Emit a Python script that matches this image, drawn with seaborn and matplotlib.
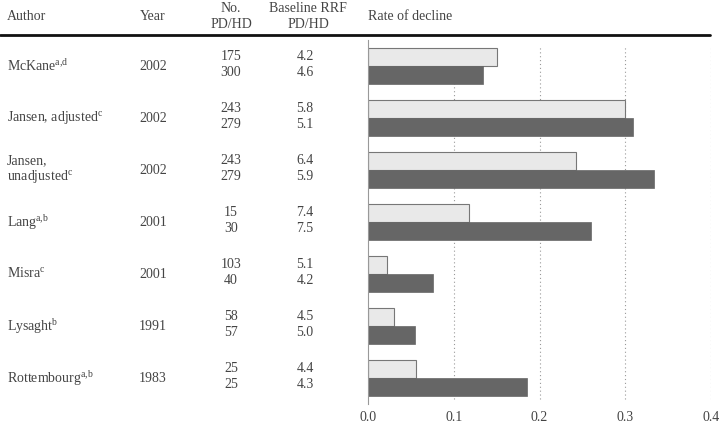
import matplotlib
matplotlib.use("Agg")
import matplotlib.pyplot as plt
import matplotlib.transforms as mtrans
import seaborn as sns
import pandas as pd

authors = ["McKane$^{\\mathrm{a{,}d}}$", "Jansen, adjusted$^{\\mathrm{c}}$",
           "Jansen,\nunadjusted$^{\\mathrm{c}}$", "Lang$^{\\mathrm{a{,}b}}$",
           "Misra$^{\\mathrm{c}}$", "Lysaght$^{\\mathrm{b}}$",
           "Rottembourg$^{\\mathrm{a{,}b}}$"]
years = ["2002", "2002", "2002", "2001", "2001", "1991", "1983"]
n_pd = ["175", "243", "243", "15", "103", "58", "25"]
n_hd = ["300", "279", "279", "30", "40", "57", "25"]
rrf_pd = ["4.2", "5.8", "6.4", "7.4", "5.1", "4.5", "4.4"]
rrf_hd = ["4.6", "5.1", "5.9", "7.5", "4.2", "5.0", "4.3"]
decline_pd = [0.151, 0.300, 0.243, 0.118, 0.022, 0.030, 0.056]
decline_hd = [0.134, 0.309, 0.334, 0.260, 0.076, 0.055, 0.185]
xticks = [0.0, 0.1, 0.2, 0.3, 0.4]

sns.set_style("white")
plt.rcParams["font.family"] = ["Liberation Serif", "DejaVu Serif"]
plt.rcParams["mathtext.fontset"] = "custom"
plt.rcParams["mathtext.rm"] = "Liberation Serif"

W, H = 720, 423
fig = plt.figure(figsize=(7.2, 4.23), dpi=100)
ax = fig.add_axes([368 / W, 1 - 404 / H, (711 - 368) / W, (404 - 40) / H])

keys = [str(i) for i in range(len(authors))]
df = pd.DataFrame({
    "study": keys * 2,
    "value": decline_pd + decline_hd,
    "mode": ["PD"] * len(keys) + ["HD"] * len(keys),
})
sns.barplot(data=df, y="study", x="value", hue="mode", order=keys,
            hue_order=["PD", "HD"], palette={"PD": "#e9e9e9", "HD": "#666666"},
            orient="h", width=0.69, ax=ax, legend=False)
for p, lbl in zip(ax.patches, ["PD"] * len(keys) + ["HD"] * len(keys)):
    if lbl == "PD":
        p.set_edgecolor("#777777")
        p.set_linewidth(0.8)
    else:
        p.set_edgecolor("#666666")
        p.set_linewidth(0.5)

ax.set_xlim(0, 0.4)
ax.set_ylim(6.5, -0.5)
ax.set_xticks(xticks)
ax.set_xticklabels([f"{t:.1f}" for t in xticks])
ax.set_yticks([])
ax.set_xlabel("")
ax.set_ylabel("")
for t in xticks[1:]:
    ax.axvline(t, ymin=0.015, ymax=0.98, color="#999999", lw=0.8,
               ls=(0, (1, 2.5)), zorder=0)
for s in ["top", "right", "bottom"]:
    ax.spines[s].set_visible(False)
ax.spines["left"].set_color("#999999")
ax.spines["left"].set_linewidth(0.8)

tc = "#444444"
fs = 10
ax.tick_params(axis="x", length=0, pad=5, labelsize=fs, labelcolor=tc)

trans = mtrans.blended_transform_factory(fig.transFigure, ax.transData)
for i in range(len(authors)):
    ax.text(7 / W, i, authors[i], transform=trans, ha="left", va="center",
            fontsize=fs, color=tc, linespacing=1.15)
    ax.text(153 / W, i, years[i], transform=trans, ha="center", va="center",
            fontsize=fs, color=tc)
    ax.text(231 / W, i - 0.19, n_pd[i], transform=trans, ha="center",
            va="center", fontsize=fs, color=tc)
    ax.text(231 / W, i + 0.13, n_hd[i], transform=trans, ha="center",
            va="center", fontsize=fs, color=tc)
    ax.text(305 / W, i - 0.19, rrf_pd[i], transform=trans, ha="center",
            va="center", fontsize=fs, color=tc)
    ax.text(305 / W, i + 0.13, rrf_hd[i], transform=trans, ha="center",
            va="center", fontsize=fs, color=tc)

def fy(py):
    return 1 - py / H

fig.text(7 / W, fy(16), "Author", ha="left", va="center", fontsize=fs, color=tc)
fig.text(153 / W, fy(16), "Year", ha="center", va="center", fontsize=fs, color=tc)
fig.text(231 / W, fy(9), "No.", ha="center", va="center", fontsize=fs, color=tc)
fig.text(231 / W, fy(25), "PD/HD", ha="center", va="center", fontsize=fs, color=tc)
fig.text(308 / W, fy(9), "Baseline RRF", ha="center", va="center", fontsize=fs, color=tc)
fig.text(308 / W, fy(25), "PD/HD", ha="center", va="center", fontsize=fs, color=tc)
fig.text(368 / W, fy(16), "Rate of decline", ha="left", va="center", fontsize=fs, color=tc)
fig.add_artist(plt.Line2D([0, 710 / W], [fy(35.5), fy(35.5)], color="#111111",
                          lw=2.0, transform=fig.transFigure))

fig.savefig("out.png", dpi=100)
